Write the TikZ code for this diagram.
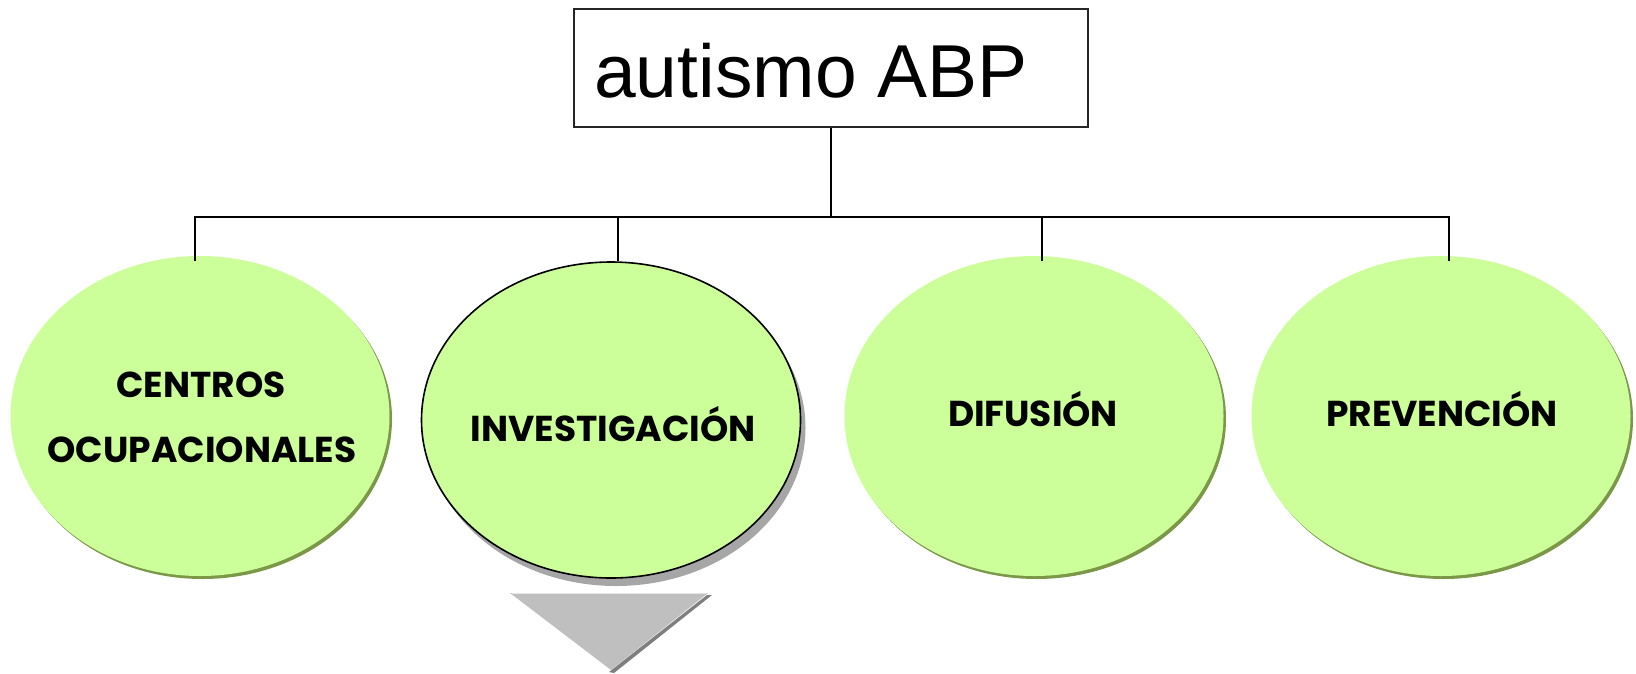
\documentclass[tikz,border=0pt]{standalone}
\usepackage{fontspec}
\setmainfont{Liberation Sans}
\newfontfamily\labfont{Poppins}
\usetikzlibrary{shapes.geometric}
\definecolor{leaf}{HTML}{CCFF99}
\definecolor{leafedge}{HTML}{7A9848}
\definecolor{invshadow}{HTML}{A6A6A6}
\definecolor{tri}{HTML}{BFBFBF}
\definecolor{trishadow}{HTML}{7F7F7F}
\begin{document}
\begin{tikzpicture}[x=1pt,y=-1pt,
  bubble/.style={ellipse, minimum width=379pt, minimum height=320pt, fill=leaf,
    inner sep=0pt,
    preaction={fill=leafedge, transform canvas={shift={(2.5pt,-3pt)}}}},
  invbubble/.style={ellipse, minimum width=379pt, minimum height=316pt, fill=leaf,
    draw=black, line width=1.6pt, inner sep=0pt,
    preaction={fill=invshadow, draw=none, transform canvas={shift={(5pt,-8pt)}}}},
  lab/.style={anchor=base, inner sep=0pt, font=\labfont\bfseries\fontsize{36}{40}\selectfont},
  conn/.style={draw=black, line width=1.6pt},
  titlebox/.style={draw=black!85, line width=2pt, minimum width=514pt, minimum height=118pt, inner sep=0pt},
  titletext/.style={font=\fontsize{75}{80}\selectfont, inner sep=0pt}
]
\useasboundingbox (0,0) rectangle (1636,673);

% title
\node[titlebox, anchor=north west] (topbox) at (573,8) {};
\node[titletext, anchor=base west] (title) at (594,97) {autismo ABP};

% ellipses
\node[bubble] (n1) at (200,416) {};
\node[invbubble] (n2) at (611,420) {};
\node[bubble] (n3) at (1034,416) {};
\node[bubble] (n4) at (1441,416) {};

% labels
\node[lab] (t1a) at (201,397) {CENTROS};
\node[lab] (t1b) at (202,462) {OCUPACIONALES};
\node[lab] (t2) at (613,441) {INVESTIGACIÓN};
\node[lab] (t3) at (1033,426) {DIFUSIÓN};
\node[lab] (t4) at (1442,426) {PREVENCIÓN};

% connectors
\coordinate (busL) at (195,217);
\coordinate (busR) at (1449,217);
\coordinate (b2) at (618,217);
\coordinate (b3) at (1042,217);
\draw[conn] (topbox.south) -- (topbox.south |- busL);
\draw[conn, line cap=rect] (busL) -- (busR);
\draw[conn] (busL) -- ++(0,44);
\draw[conn] (b2) -- (b2 |- n2.north);
\draw[conn] (b3) -- ++(0,44);
\draw[conn] (busR) -- ++(0,44);

% grey triangle below INVESTIGACION
\fill[trishadow] (712,595) -- (614,673) -- (609,672) -- (707,595) -- cycle;
\fill[tri] (510,593) -- (708,593) -- (611,670) -- cycle;
\draw[white!90!black, line width=1pt] (512,593) -- (706,593);
\end{tikzpicture}
\end{document}
